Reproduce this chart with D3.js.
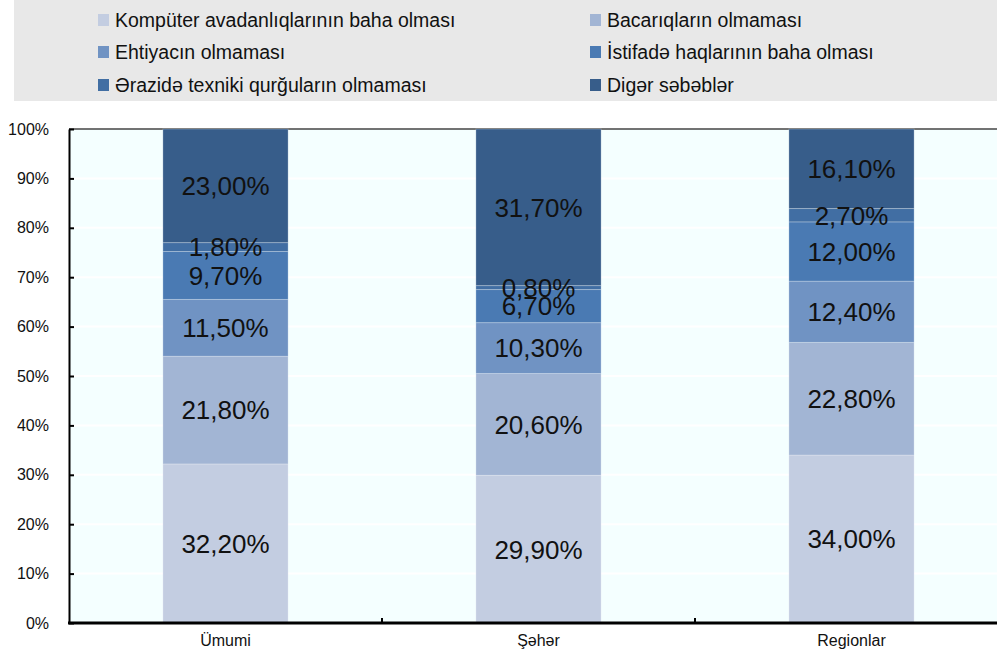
<!DOCTYPE html>
<html><head><meta charset="utf-8">
<script src="https://cdn.jsdelivr.net/npm/d3@7"></script>
<style>
body{margin:0;background:#fff;}
svg{display:block;font-family:"Liberation Sans",Arial,sans-serif;}
</style></head>
<body>
<svg id="c" width="997" height="652"></svg>
<script>
const categories = ["Ümumi", "Şəhər", "Regionlar"];
const seriesNames = [
  "Kompüter avadanlıqlarının baha olması",
  "Bacarıqların olmaması",
  "Ehtiyacın olmaması",
  "İstifadə haqlarının baha olması",
  "Ərazidə texniki qurğuların olmaması",
  "Digər səbəblər"
];
const s1 = [32.2, 29.9, 34.0];
const s2 = [21.8, 20.6, 22.8];
const s3 = [11.5, 10.3, 12.4];
const s4 = [9.7, 6.7, 12.0];
const s5 = [1.8, 0.8, 2.7];
const s6 = [23.0, 31.7, 16.1];
const yTicks = [0,10,20,30,40,50,60,70,80,90,100];
const colors = ["#c3cde1","#a2b5d4","#7093c3","#4a7ab3","#416ea3","#375d8a"];

const seriesVals = [s1,s2,s3,s4,s5,s6];
const rows = categories.map((c,i)=>{const o={cat:c}; seriesNames.forEach((n,j)=>o[n]=seriesVals[j][i]); return o;});
const stack = d3.stack().keys(seriesNames)(rows);

const svg = d3.select("#c");
// legend background
svg.append("rect").attr("x",14).attr("y",0).attr("width",983).attr("height",101).attr("fill","#e8e8e8");
const legPos = [[98,20],[590,20],[98,52],[590,52],[98,85],[590,85]];
seriesNames.forEach((n,i)=>{
  const g = svg.append("g").attr("transform",`translate(${legPos[i][0]},${legPos[i][1]})`);
  g.append("rect").attr("x",0).attr("y",-6).attr("width",11).attr("height",12).attr("fill",colors[i]);
  g.append("text").attr("x",17).attr("y",0).attr("dy","0.35em").attr("font-size",19.5).attr("fill","#111").text(n);
});

const y = d3.scaleLinear().domain([0,100]).range([623,129]);
const x = d3.scaleBand().domain(categories).range([69,1008]).paddingInner(0.6).paddingOuter(0.3);

// plot background
svg.append("rect").attr("x",69).attr("y",129).attr("width",997-69).attr("height",623-129).attr("fill","#f4ffff");
// gridlines
svg.append("g").selectAll("line").data(yTicks.filter(t=>t>0&&t<100)).join("line")
  .attr("x1",70).attr("x2",997).attr("y1",d=>y(d)).attr("y2",d=>y(d))
  .attr("stroke","#ffffff").attr("stroke-width",2);
// top border
svg.append("line").attr("x1",69).attr("x2",997).attr("y1",129).attr("y2",129).attr("stroke","#444").attr("stroke-width",1.5);

// bars
const layers = svg.append("g").selectAll("g").data(stack).join("g").attr("fill",(d,i)=>colors[i]);
layers.selectAll("rect").data(d=>d).join("rect")
  .attr("x",d=>x(d.data.cat)).attr("width",x.bandwidth())
  .attr("y",d=>y(d[1])).attr("height",d=>y(d[0])-y(d[1]))
  .attr("stroke","rgba(255,255,255,0.25)").attr("stroke-width",1);

// value labels
const fmt = v => v.toFixed(2).replace(".",",")+"%";
stack.forEach(layer=>{
  svg.append("g").selectAll("text").data(layer).join("text")
    .attr("x",d=>x(d.data.cat)+x.bandwidth()/2)
    .attr("y",d=>y((d[0]+d[1])/2)).attr("dy","0.36em")
    .attr("text-anchor","middle").attr("font-size",26).attr("fill","#111")
    .text(d=>fmt(d[1]-d[0]));
});

// y axis
const yAxis = d3.axisLeft(y).tickValues(yTicks).tickFormat(d=>d+"%").tickSizeInner(-5).tickSizeOuter(0).tickPadding(20);
const ga = svg.append("g").attr("transform","translate(69,0)").call(yAxis);
ga.select(".domain").attr("stroke","#000").attr("stroke-width",2);
ga.selectAll(".tick line").attr("stroke","#000").attr("stroke-width",2);
ga.selectAll(".tick text").attr("font-size",16).attr("fill","#111").attr("font-family","Liberation Sans, Arial, sans-serif");

// x axis
const gx = svg.append("g").attr("transform","translate(0,623)");
gx.append("line").attr("x1",68).attr("x2",997).attr("y1",0).attr("y2",0).attr("stroke","#000").attr("stroke-width",3);
const step = x.step();
gx.selectAll("line.tk").data([1,2]).join("line").attr("class","tk")
  .attr("x1",d=>69+step*d).attr("x2",d=>69+step*d).attr("y1",-5).attr("y2",0)
  .attr("stroke","#000").attr("stroke-width",2);
gx.selectAll("text").data(categories).join("text")
  .attr("x",d=>x(d)+x.bandwidth()/2).attr("y",23)
  .attr("text-anchor","middle").attr("font-size",16).attr("fill","#111").text(d=>d);
</script>
</body></html>
